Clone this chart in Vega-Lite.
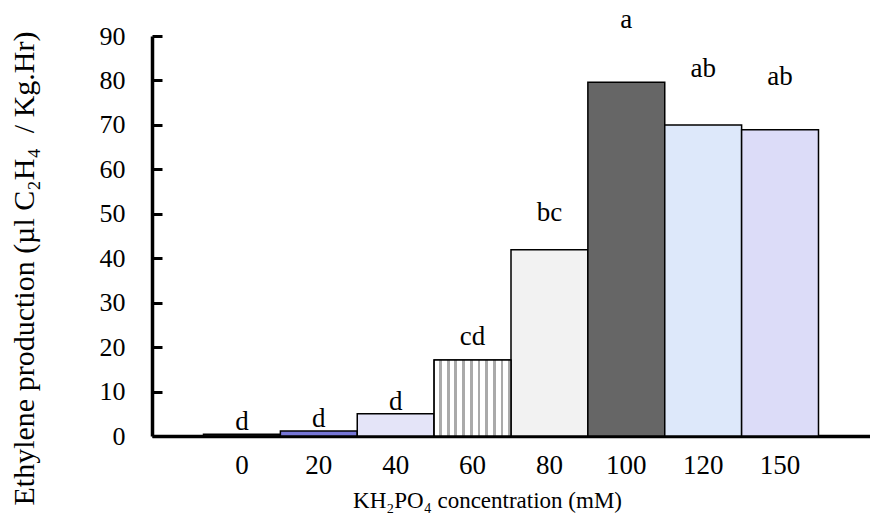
{
  "$schema": "https://vega.github.io/schema/vega-lite/v6.json",
  "width": 718,
  "height": 400,
  "autosize": {"type": "none"},
  "padding": {"left": 152, "top": 36, "right": 0, "bottom": 81},
  "background": "white",
  "config": {
    "view": {"stroke": null},
    "font": "Liberation Serif",
    "axis": {"labelFont": "Liberation Serif", "titleFont": "Liberation Serif"}
  },
  "data": {
    "values": [
      {"conc": "0", "ethylene": 0.4, "upper": 1.3, "group": "d"},
      {"conc": "20", "ethylene": 1.1, "upper": 2.0, "group": "d"},
      {"conc": "40", "ethylene": 5.0, "upper": 5.8, "group": "d"},
      {"conc": "60", "ethylene": 17.1, "upper": 20.4, "group": "cd"},
      {"conc": "80", "ethylene": 41.9, "upper": 48.3, "group": "bc"},
      {"conc": "100", "ethylene": 79.6, "upper": 91.7, "group": "a"},
      {"conc": "120", "ethylene": 70.0, "upper": 80.7, "group": "ab"},
      {"conc": "150", "ethylene": 68.9, "upper": 78.9, "group": "ab"}
    ]
  },
  "encoding": {
    "x": {
      "field": "conc",
      "type": "ordinal",
      "sort": ["0", "20", "40", "60", "80", "100", "120", "150"],
      "scale": {"paddingInner": 0, "paddingOuter": 0.67, "align": 0.5},
      "axis": {
        "title": "KH₂PO₄ concentration (mM)",
        "labelAngle": 0,
        "ticks": false,
        "grid": false,
        "domainColor": "black",
        "domainWidth": 3.5,
        "labelFont": "Liberation Serif",
        "labelFontSize": 27,
        "labelFontWeight": "normal",
        "labelColor": "black",
        "labelBaseline": "alphabetic",
        "labelPadding": 37,
        "titleFont": "Liberation Serif",
        "titleFontSize": 23,
        "titleFontWeight": "normal",
        "titleColor": "black",
        "titleX": 335,
        "titleY": 71,
        "titleBaseline": "alphabetic",
        "titleAlign": "center"
      }
    }
  },
  "layer": [
    {
      "mark": {"type": "bar", "stroke": "black", "strokeWidth": 1.5},
      "encoding": {
        "y": {
          "field": "ethylene",
          "type": "quantitative",
          "scale": {"domain": [0, 90], "nice": false},
          "axis": {
            "title": "Ethylene production (µl C₂H₄\u00a0\u00a0/ Kg.Hr)",
            "grid": false,
            "domainColor": "black",
            "domainWidth": 3.5,
            "tickColor": "black",
            "tickWidth": 3,
            "tickSize": -10,
            "labelPadding": 37,
            "labelFont": "Liberation Serif",
            "labelFontSize": 26,
            "labelFontWeight": "normal",
            "labelColor": "black",
            "values": [0, 10, 20, 30, 40, 50, 60, 70, 80, 90],
            "titleFont": "Liberation Serif",
            "titleFontSize": 30,
            "titleFontWeight": "normal",
            "titleColor": "black",
            "titleAngle": -90,
            "titleX": -119,
            "titleY": 232,
            "titleAlign": "center",
            "titleBaseline": "alphabetic"
          }
        },
        "color": {
          "field": "conc",
          "type": "nominal",
          "scale": {
            "domain": ["0", "20", "40", "60", "80", "100", "120", "150"],
            "range": ["#222222", "#7676d6", "#e4e4f8", "#dcdcdc", "#f2f2f2", "#666666", "#dde8fa", "#dcdcf8"]
          },
          "legend": null
        }
      }
    },
    {
      "transform": [{"filter": "datum.conc == '60'"}],
      "mark": {
        "type": "bar",
        "stroke": "black",
        "strokeWidth": 1.5,
        "color": {
          "gradient": "linear",
          "x1": 0, "y1": 0, "x2": 1, "y2": 0,
          "stops": [
            {"offset": 0.0, "color": "white"}, {"offset": 0.065, "color": "white"}, {"offset": 0.065, "color": "#aaaaaa"}, {"offset": 0.1, "color": "#aaaaaa"},
            {"offset": 0.1, "color": "white"}, {"offset": 0.165, "color": "white"}, {"offset": 0.165, "color": "#aaaaaa"}, {"offset": 0.2, "color": "#aaaaaa"},
            {"offset": 0.2, "color": "white"}, {"offset": 0.265, "color": "white"}, {"offset": 0.265, "color": "#aaaaaa"}, {"offset": 0.3, "color": "#aaaaaa"},
            {"offset": 0.3, "color": "white"}, {"offset": 0.365, "color": "white"}, {"offset": 0.365, "color": "#aaaaaa"}, {"offset": 0.4, "color": "#aaaaaa"},
            {"offset": 0.4, "color": "white"}, {"offset": 0.465, "color": "white"}, {"offset": 0.465, "color": "#aaaaaa"}, {"offset": 0.5, "color": "#aaaaaa"},
            {"offset": 0.5, "color": "white"}, {"offset": 0.565, "color": "white"}, {"offset": 0.565, "color": "#aaaaaa"}, {"offset": 0.6, "color": "#aaaaaa"},
            {"offset": 0.6, "color": "white"}, {"offset": 0.665, "color": "white"}, {"offset": 0.665, "color": "#aaaaaa"}, {"offset": 0.7, "color": "#aaaaaa"},
            {"offset": 0.7, "color": "white"}, {"offset": 0.765, "color": "white"}, {"offset": 0.765, "color": "#aaaaaa"}, {"offset": 0.8, "color": "#aaaaaa"},
            {"offset": 0.8, "color": "white"}, {"offset": 0.865, "color": "white"}, {"offset": 0.865, "color": "#aaaaaa"}, {"offset": 0.9, "color": "#aaaaaa"},
            {"offset": 0.9, "color": "white"}, {"offset": 0.965, "color": "white"}, {"offset": 0.965, "color": "#aaaaaa"}, {"offset": 1.0, "color": "#aaaaaa"}
          ]
        }
      },
      "encoding": {
        "y": {
          "field": "ethylene",
          "type": "quantitative",
          "axis": {"title": "Ethylene production (µl C₂H₄\u00a0\u00a0/ Kg.Hr)"}
        }
      }
    },
    {
      "mark": {"type": "text", "font": "Liberation Serif", "fontSize": 27, "baseline": "alphabetic", "color": "black"},
      "encoding": {
        "y": {
          "field": "upper",
          "type": "quantitative",
          "axis": {"title": "Ethylene production (µl C₂H₄\u00a0\u00a0/ Kg.Hr)"}
        },
        "text": {"field": "group"}
      }
    }
  ]
}
